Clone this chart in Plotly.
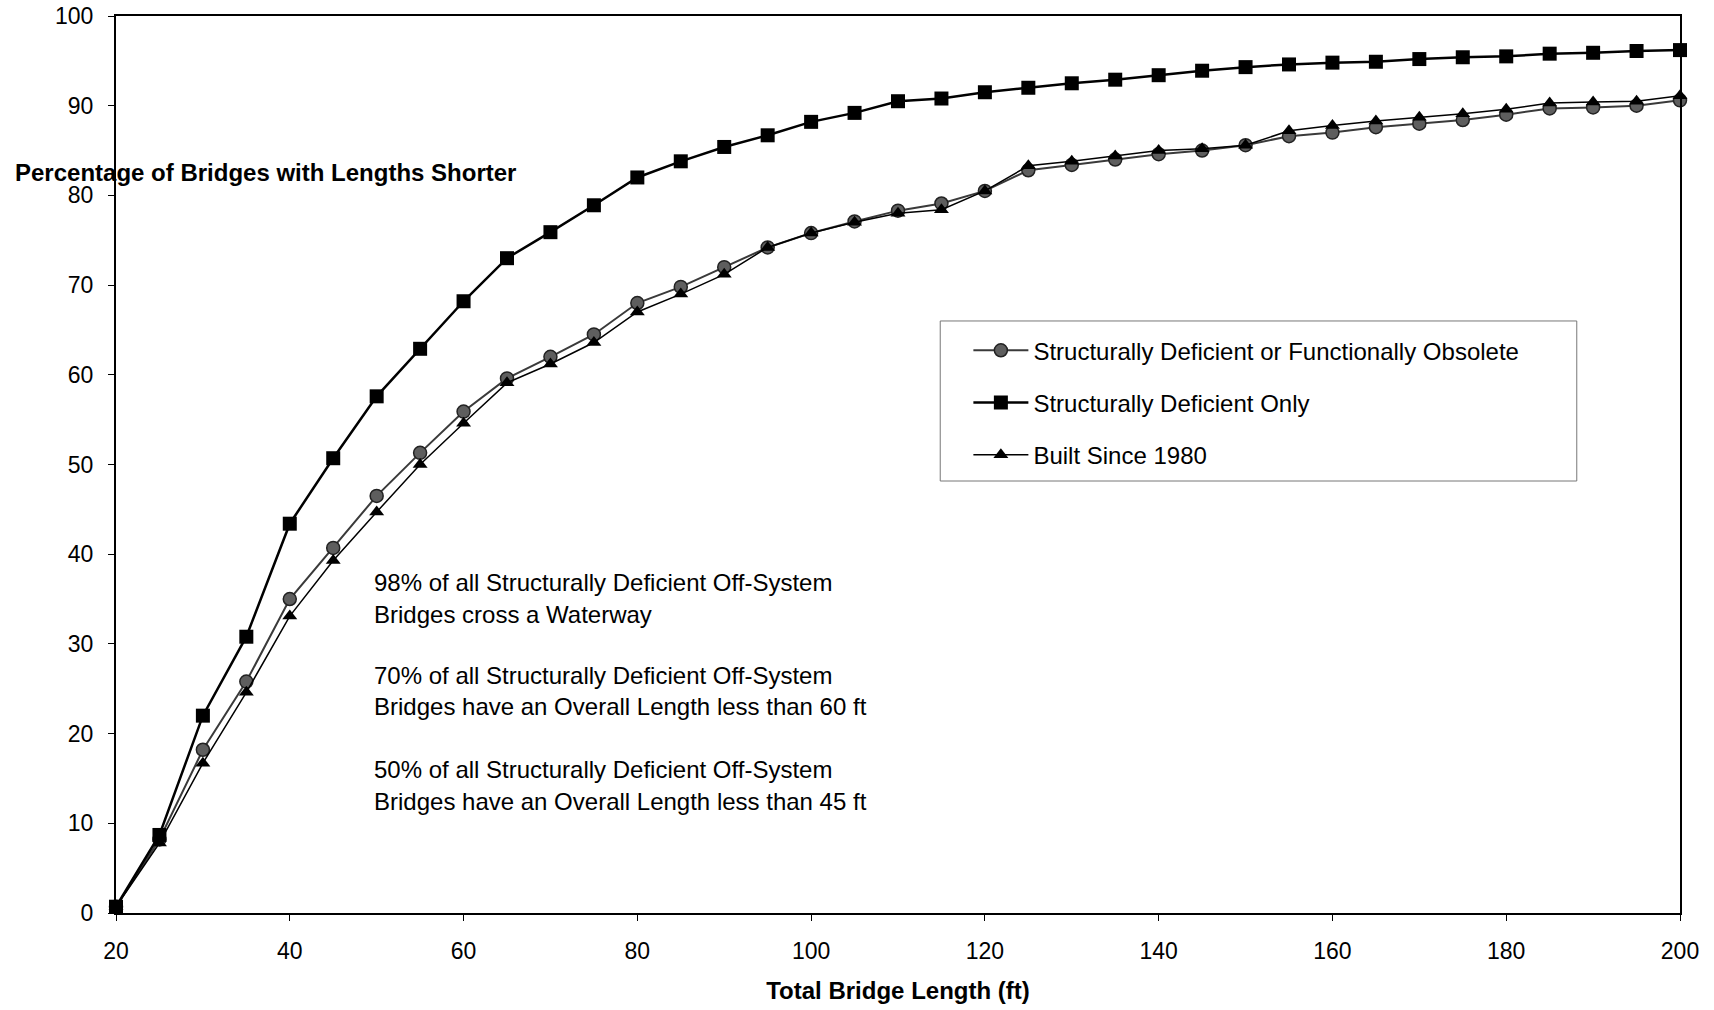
import plotly.graph_objects as go

# bridge lengths (ft), every 5 ft from 20 to 200
lengths = list(range(20, 205, 5))

# percentage of bridges shorter than the given length
sd_or_fo = [0.7, 8.2, 18.2, 25.8, 35.0, 40.7, 46.5, 51.3, 55.9, 59.6, 62.0, 64.5, 68.0,
            69.8, 72.0, 74.2, 75.8, 77.1, 78.3, 79.1, 80.5, 82.8, 83.4, 84.0, 84.6, 85.0,
            85.6, 86.6, 87.0, 87.6, 88.0, 88.4, 89.0, 89.7, 89.8, 90.0, 90.6]
sd_only = [0.7, 8.7, 22.0, 30.8, 43.4, 50.7, 57.6, 62.9, 68.2, 73.0, 75.9, 78.9, 82.0,
           83.8, 85.4, 86.7, 88.2, 89.2, 90.5, 90.8, 91.5, 92.0, 92.5, 92.9, 93.4, 93.9,
           94.3, 94.6, 94.8, 94.9, 95.2, 95.4, 95.5, 95.8, 95.9, 96.1, 96.2]
built_1980 = [0.7, 7.8, 16.7, 24.6, 33.1, 39.3, 44.7, 50.0, 54.6, 59.1, 61.2, 63.6, 67.0,
              69.0, 71.2, 74.2, 75.8, 77.0, 78.0, 78.4, 80.5, 83.3, 83.8, 84.4, 85.0, 85.2,
              85.6, 87.2, 87.8, 88.3, 88.7, 89.1, 89.6, 90.3, 90.4, 90.5, 91.1]

notes = ["98% of all Structurally Deficient Off-System",
         "Bridges cross a Waterway",
         "70% of all Structurally Deficient Off-System",
         "Bridges have an Overall Length less than 60 ft",
         "50% of all Structurally Deficient Off-System",
         "Bridges have an Overall Length less than 45 ft"]
note_y = [36.8, 33.3, 26.5, 23.0, 16.0, 12.4]

FONT = "Liberation Sans, Arial, sans-serif"

fig = go.Figure()

fig.add_trace(go.Scatter(x=lengths, y=sd_or_fo, mode="lines+markers",
                         name="Structurally Deficient or Functionally Obsolete",
                         legendgroup="a", cliponaxis=False,
                         line=dict(color="#3a3a3a", width=2),
                         marker=dict(symbol="circle", size=13, color="#5e5e5e",
                                     line=dict(color="#222", width=1.5))))
fig.add_trace(go.Scatter(x=lengths, y=sd_only, mode="lines+markers",
                         name="Structurally Deficient Only",
                         legendgroup="b", cliponaxis=False,
                         line=dict(color="black", width=2.5),
                         marker=dict(symbol="square", size=14, color="black")))
fig.add_trace(go.Scatter(x=lengths, y=built_1980, mode="lines+markers",
                         name="Built Since 1980",
                         legendgroup="c", cliponaxis=False,
                         line=dict(color="black", width=1.5),
                         marker=dict(symbol="triangle-up", size=13, color="black")))

for txt, yv in zip(notes, note_y):
    fig.add_annotation(x=49.5, y=yv, xref="x", yref="y", text=txt, showarrow=False,
                       xanchor="left", yanchor="middle",
                       font=dict(family=FONT, size=24, color="black"))

# y-axis title sits horizontally above the 80 tick (overlaps it, as in the original)
fig.add_annotation(x=-0.066, y=82.6, xref="paper", yref="y",
                   text="<b>Percentage of Bridges with Lengths Shorter</b>",
                   showarrow=False, xanchor="left", yanchor="middle",
                   font=dict(family=FONT, size=24, color="black"))

# legend frame, wider than plotly's own legend box
fig.add_shape(type="rect", xref="paper", yref="paper",
              x0=0.527, x1=0.934, y0=0.4816, y1=0.660,
              line=dict(color="#777", width=1), fillcolor="white", layer="above")

fig.update_layout(
    width=1714, height=1010,
    margin=dict(l=116, r=34, t=16, b=97, autoexpand=False),
    paper_bgcolor="white", plot_bgcolor="white",
    font=dict(family=FONT, size=23, color="black"),
    legend=dict(x=0.545, y=0.652, xanchor="left", yanchor="top",
                bgcolor="rgba(0,0,0,0)", borderwidth=0, itemwidth=55,
                font=dict(family=FONT, size=24), tracegroupgap=18),
    xaxis=dict(range=[20, 200], tick0=20, dtick=20, showgrid=False, zeroline=False,
               showline=True, linecolor="black", linewidth=2, mirror=True,
               ticks="outside", ticklen=6, tickcolor="black", automargin=False,
               ticklabelstandoff=10,
               title=dict(text="<b>Total Bridge Length (ft)</b>",
                          font=dict(family=FONT, size=24), standoff=20)),
    yaxis=dict(range=[0, 100], dtick=10, showgrid=False, zeroline=False,
               showline=True, linecolor="black", linewidth=2, mirror=True,
               ticks="outside", ticklen=6, tickcolor="black", automargin=False,
               ticklabelstandoff=10),
)

# drop the default page margin so the figure sits at the window corner
fig.write_html("out.html", config={"displayModeBar": False},
               post_script="document.body.style.margin='0';")
